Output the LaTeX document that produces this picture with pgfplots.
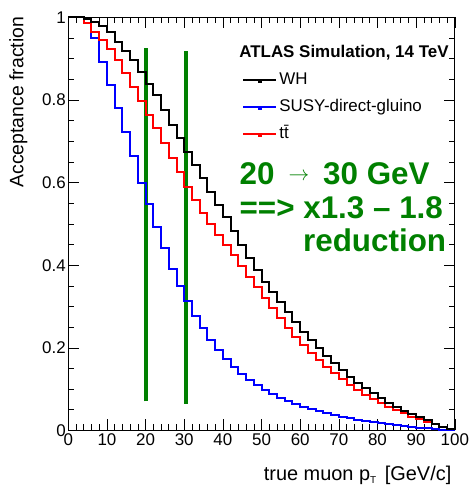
\documentclass[border=0pt]{standalone}
\usepackage{pgfplots}
\pgfplotsset{compat=1.18}
\usepackage{fontspec}
\setmainfont{Liberation Sans}
\definecolor{dgreen}{RGB}{0,128,0}

\pgfplotstableread{
x WH SUSY TT
0 1.000 1.000 1.000
2 1.000 1.000 1.000
4 0.997 0.986 0.986
6 0.990 0.949 0.965
8 0.979 0.893 0.945
10 0.965 0.836 0.923
12 0.941 0.780 0.897
14 0.919 0.723 0.865
16 0.897 0.665 0.832
18 0.869 0.600 0.798
20 0.839 0.548 0.764
22 0.812 0.493 0.731
24 0.776 0.441 0.695
26 0.740 0.392 0.659
28 0.707 0.350 0.625
30 0.675 0.314 0.590
32 0.643 0.277 0.558
34 0.610 0.247 0.527
36 0.578 0.219 0.500
38 0.546 0.195 0.474
40 0.516 0.173 0.449
42 0.483 0.154 0.424
44 0.450 0.137 0.398
46 0.417 0.122 0.372
48 0.388 0.110 0.347
50 0.360 0.098 0.320
52 0.336 0.088 0.296
54 0.312 0.079 0.271
56 0.287 0.071 0.247
58 0.263 0.064 0.227
60 0.239 0.057 0.207
62 0.219 0.051 0.188
64 0.199 0.046 0.170
66 0.180 0.041 0.154
68 0.162 0.037 0.138
70 0.146 0.033 0.124
72 0.130 0.029 0.110
74 0.115 0.026 0.098
76 0.102 0.023 0.086
78 0.090 0.020 0.075
80 0.078 0.018 0.066
82 0.067 0.015 0.057
84 0.057 0.013 0.049
86 0.048 0.011 0.041
88 0.040 0.009 0.033
90 0.032 0.007 0.027
92 0.024 0.005 0.021
94 0.016 0.004 0.015
96 0.009 0.002 0.009
98 0.003 0.001 0.004
100 0.003 0.001 0.004
}\histdata

\begin{document}
\begin{tikzpicture}
\begin{axis}[
  at={(0,0)}, anchor=south west,
  scale only axis, width=386.5bp, height=413bp,
  xmin=0, xmax=100, ymin=0, ymax=1,
  xtick={0,10,...,100}, minor x tick num=4,
  ytick={0,0.2,0.4,0.6,0.8,1}, minor y tick num=3,
  tick align=inside, xtick pos=both, ytick pos=both,
  major tick length=11bp, minor tick length=6bp,
  tick style={black, line width=0.6bp},
  axis line style={line width=0.8bp},
  clip=false,
  /pgf/number format/assume math mode=true,
  ticklabel style={font=\fontsize{17}{17}\selectfont},
  yticklabel style={/pgf/number format/fixed, xshift=1bp},
  xlabel={true muon p\raisebox{-3bp}{\fontsize{10}{10}\selectfont T}\hspace{3bp} [GeV/c]},
  ylabel={Acceptance fraction},
  xlabel style={at={(axis description cs:1,-0.1211)}, anchor=base east, font=\fontsize{20}{20}\selectfont},
  ylabel style={at={(axis description cs:-0.1163,1.0097)}, anchor=base east, rotate=0, font=\fontsize{19.5}{19.5}\selectfont},
  legend style={at={(axis cs:45.0,0.872)}, anchor=north west, draw=none, fill=none,
    font=\fontsize{17}{17}\selectfont, row sep=7bp, inner sep=0pt,
    nodes={inner sep=2bp, text height=12bp, text depth=4bp}},
  legend cell align=left,
  legend image code/.code={\draw[#1, line width=2bp] (0bp,0bp) -- (33bp,0bp); \fill[#1] (15bp,-1.5bp) rectangle (18bp,1.5bp);},
]
\addplot[dgreen, line width=4bp, forget plot] coordinates {(20,0.07) (20,0.925)};
\addplot[dgreen, line width=4bp, forget plot] coordinates {(30.4,0.064) (30.4,0.918)};
\addplot[const plot, blue, line width=2bp, forget plot] table[x=x, y=SUSY] {\histdata};
\addplot[const plot, red, line width=2bp, forget plot] table[x=x, y=TT] {\histdata};
\addplot[const plot, black, line width=2bp, forget plot] table[x=x, y=WH] {\histdata};
\addlegendimage{black}
\addlegendentry{WH}
\addlegendimage{blue}
\addlegendentry{SUSY-direct-gluino}
\addlegendimage{red}
\addlegendentry{t\={t}}
\node[anchor=base west, inner sep=0pt, font=\bfseries\fontsize{17}{17}\selectfont] at (axis cs:44.2,0.904) {ATLAS Simulation, 14 TeV};
\node[anchor=base west, inner sep=0pt, text=dgreen, font=\bfseries\fontsize{31.5}{31.5}\selectfont] at (axis cs:44.28,0.596) {20\hspace{14bp}{\fontsize{21}{21}\selectfont\raisebox{4bp}{$\rightarrow$}}\hspace{14bp}30 GeV};
\node[anchor=base west, inner sep=0pt, text=dgreen, font=\bfseries\fontsize{31.5}{31.5}\selectfont] at (axis cs:44.28,0.512) {==> x1.3 – 1.8};
\node[anchor=base east, inner sep=0pt, text=dgreen, font=\bfseries\fontsize{31.5}{31.5}\selectfont] at (axis cs:97.8,0.433) {reduction};
\end{axis}
\pgfresetboundingbox
\path (-68.3bp,-57.6bp) rectangle (407.7bp,430.4bp);
\end{tikzpicture}
\end{document}
